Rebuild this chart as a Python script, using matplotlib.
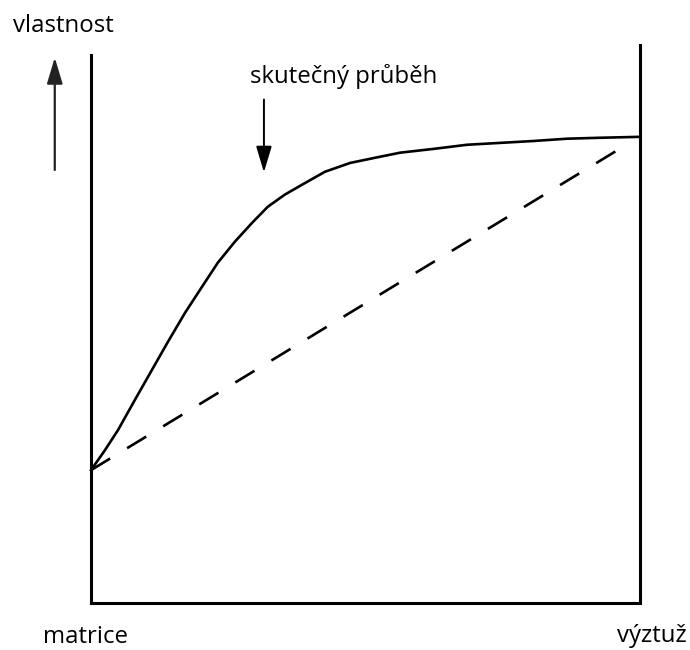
import numpy as np
import matplotlib
matplotlib.use("Agg")
import matplotlib.pyplot as plt

plt.rcParams['font.family'] = ['Open Sans', 'DejaVu Sans']

# podil vyztuze (0 = matrice, 1 = vyztuz) a vlastnost kompozitu
podil = [0.0, 0.0255, 0.0492, 0.0801, 0.111, 0.140, 0.171, 0.202, 0.231,
         0.262, 0.293, 0.322, 0.353, 0.384, 0.426, 0.472, 0.517, 0.563,
         0.623, 0.685, 0.745, 0.805, 0.867, 0.927, 1.0]
skutecny = [28.5, 32.8, 37.1, 43.6, 50.0, 56.0, 62.2, 67.8, 73.0,
            77.5, 81.5, 85.0, 87.6, 89.7, 92.5, 94.4, 95.5, 96.6,
            97.4, 98.3, 98.7, 99.1, 99.6, 99.8, 100.0]
# smesovaci pravidlo - primka mezi matrici a vyztuzi
primka_x = [0.0, 0.978]
primka_y = [28.5, 98.5]

popisky = ["matrice", "výztuž"]

fig = plt.figure(figsize=(6.9, 6.5), dpi=100)
ax = fig.add_axes([91 / 690, 47 / 650, 549 / 690, 558 / 650])
ax.set_xlim(0, 1)
ax.set_ylim(0, 119.7)
ax.axis('off')

# ramecek - osa vlevo, dole a svisla cara vpravo
ax.plot([0, 0, 1, 1], [117.6, 0, 0, 119.7], color='black', lw=2.2,
        solid_joinstyle='miter', clip_on=False)

ax.plot(podil, skutecny, color='black', lw=1.9, solid_joinstyle='round',
        clip_on=False)
ax.plot(primka_x, primka_y, color='black', lw=1.9, dashes=(8.5, 7.5),
        clip_on=False)

# sipky
ax.annotate('', xy=(-0.066, 117.6), xytext=(-0.066, 92.3),
            arrowprops=dict(arrowstyle='-|>,head_length=0.8,head_width=0.24',
                            mutation_scale=20, color='#222222', lw=1.6),
            annotation_clip=False)
ax.annotate('', xy=(0.315, 91.8), xytext=(0.315, 108.6),
            arrowprops=dict(arrowstyle='-|>,head_length=0.8,head_width=0.24',
                            mutation_scale=20, color='black', lw=1.4),
            annotation_clip=False)

fs = 17.3
fig.text(13 / 690, 1 - 32 / 650, "vlastnost", fontsize=fs, ha='left', va='baseline')
fig.text(250 / 690, 1 - 83 / 650, "skutečný průběh", fontsize=fs, ha='left', va='baseline')
fig.text(43 / 690, 1 - 643 / 650, popisky[0], fontsize=fs, ha='left', va='baseline')
fig.text(687 / 690, 1 - 642 / 650, popisky[1], fontsize=fs, ha='right', va='baseline')

fig.savefig("out.png", dpi=100)
